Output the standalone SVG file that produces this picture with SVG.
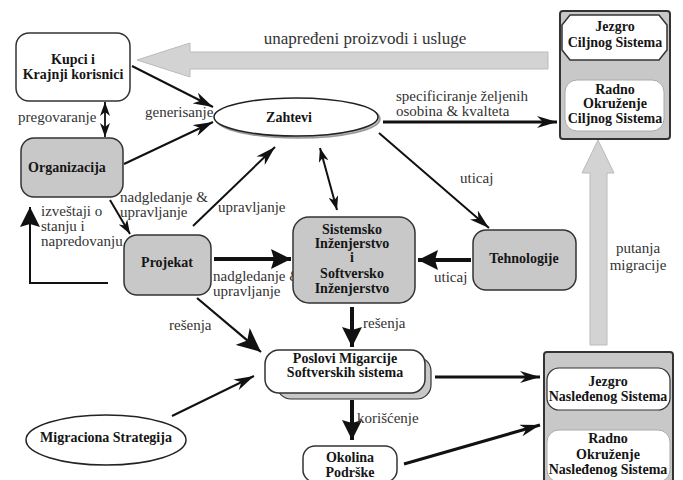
<svg xmlns="http://www.w3.org/2000/svg" width="683" height="480" viewBox="0 0 683 480">
<defs>
<style>
.nt{font-family:"Liberation Serif","Times New Roman",serif;font-weight:bold;font-size:14px;fill:#151515;text-anchor:middle}
.lb{font-family:"Liberation Serif","Times New Roman",serif;font-size:15px;fill:#333}
.gbox{fill:#c8c8c8;stroke:#333;stroke-width:1.5}
.wbox{fill:#fff;stroke:#333;stroke-width:1.5}
.ln{fill:none;stroke:#111;stroke-width:2}
.thk{fill:none;stroke:#111;stroke-width:4}
.big{fill:#d3d3d3;stroke:#bbb;stroke-width:1}
</style>
<marker id="a" markerUnits="userSpaceOnUse" markerWidth="14" markerHeight="10" refX="14" refY="5" orient="auto-start-reverse">
<path d="M0,0 L14,5 L0,10 L4,5 z" fill="#111"/>
</marker>
<marker id="b" markerUnits="userSpaceOnUse" markerWidth="20" markerHeight="12" refX="20" refY="6" orient="auto">
<path d="M0,0 L20,6 L0,12 L6,6 z" fill="#111"/>
</marker>
<marker id="c" markerUnits="userSpaceOnUse" markerWidth="24" markerHeight="22" refX="24" refY="11" orient="auto">
<path d="M0,0 L24,11 L0,22 L6,11 z" fill="#111"/>
</marker>
<marker id="d" markerUnits="userSpaceOnUse" markerWidth="20" markerHeight="20" refX="20" refY="10" orient="auto">
<path d="M0,0 L20,10 L0,20 L3,10 z" fill="#111"/>
</marker>
</defs>

<g id="connectors">
<polygon class="big" points="548,52 190,52 190,43 137,60 190,77 190,69 548,69"/>
<polygon class="big" points="590,345 590,173 582,173 598,140 614,173 607,173 607,345"/>
<line class="ln" x1="105" y1="102" x2="105" y2="137" marker-start="url(#a)" marker-end="url(#a)" style="stroke-width:1.8"/>
<line class="ln" x1="132" y1="66" x2="213" y2="107" marker-end="url(#b)"/>
<line class="ln" x1="124" y1="164" x2="213" y2="122" marker-end="url(#b)"/>
<line class="ln" x1="110" y1="200" x2="130" y2="234" marker-end="url(#a)"/>
<polyline class="ln" points="108,283 30,283 30,207" marker-end="url(#d)"/>
<line class="ln" x1="193" y1="226" x2="275" y2="147" marker-end="url(#b)"/>
<line class="ln" x1="320" y1="148" x2="337" y2="210" marker-start="url(#a)" marker-end="url(#a)"/>
<line class="ln" x1="379" y1="133" x2="489" y2="228" marker-end="url(#b)"/>
<line class="ln" x1="383" y1="122" x2="557" y2="122" marker-end="url(#b)" style="stroke-width:3"/>
<line class="thk" x1="214" y1="259" x2="291" y2="259" marker-end="url(#d)"/>
<line class="thk" x1="471" y1="260" x2="418" y2="260" marker-end="url(#d)"/>
<line class="thk" x1="352" y1="307" x2="352" y2="347" marker-end="url(#d)"/>
<line class="thk" x1="352" y1="400" x2="352" y2="440" marker-end="url(#d)"/>
<line class="ln" x1="197" y1="298" x2="261" y2="352" marker-end="url(#c)" style="stroke-width:2.2"/>
<line class="ln" x1="172" y1="416" x2="254" y2="376" marker-end="url(#b)"/>
<line class="ln" x1="435" y1="377" x2="540" y2="377" marker-end="url(#b)" style="stroke-width:3"/>
<line class="ln" x1="404" y1="464" x2="540" y2="425" marker-end="url(#b)" style="stroke-width:3"/>
<text class="lb" x="365" y="44" text-anchor="middle" style="font-size:17px">unapređeni proizvodi i usluge</text>
<text class="lb" x="18" y="122">pregovaranje</text>
<text class="lb" x="145" y="117">generisanje</text>
<text class="lb" x="396" y="101">specificiranje željenih</text>
<text class="lb" x="396" y="116">osobina &amp; kvalteta</text>
<text class="lb" x="120" y="202">nadgledanje &amp;</text>
<text class="lb" x="120" y="217">upravljanje</text>
<text class="lb" x="41" y="216">izveštaji o</text>
<text class="lb" x="41" y="231">stanju i</text>
<text class="lb" x="41" y="246">napredovanju</text>
<text class="lb" x="218" y="212">upravljanje</text>
<text class="lb" x="460" y="183">uticaj</text>
<text class="lb" x="213" y="281">nadgledanje &amp;</text>
<text class="lb" x="213" y="296">upravljanje</text>
<text class="lb" x="434" y="282">uticaj</text>
<text class="lb" x="169" y="330">rešenja</text>
<text class="lb" x="363" y="328">rešenja</text>
<text class="lb" x="357" y="423">korišćenje</text>
<text class="lb" x="638" y="253" text-anchor="middle">putanja</text>
<text class="lb" x="638" y="270" text-anchor="middle">migracije</text>
</g>

<g id="kupci">
<rect class="wbox" x="16" y="33" width="114" height="68" rx="13"/>
<text class="nt" x="73" y="64">Kupci i</text>
<text class="nt" x="73" y="79">Krajnji korisnici</text>
</g>

<g id="zahtevi">
<ellipse cx="298" cy="119" rx="82" ry="19" fill="#bbb" stroke="#999" stroke-width="1.5"/>
<ellipse cx="296" cy="117" rx="82" ry="19" fill="#fff" stroke="#222" stroke-width="1.5"/>
<text class="nt" x="289" y="122">Zahtevi</text>
</g>

<g id="organizacija">
<rect class="gbox" x="21" y="138" width="102" height="59" rx="13"/>
<text class="nt" x="67" y="172">Organizacija</text>
</g>

<g id="projekat">
<rect class="gbox" x="124" y="235" width="87" height="60" rx="13"/>
<text class="nt" x="167" y="267">Projekat</text>
</g>

<g id="sistemsko">
<rect class="gbox" x="293" y="217" width="122" height="86" rx="16"/>
<text class="nt" x="352" y="234">Sistemsko</text>
<text class="nt" x="352" y="248">Inženjerstvo</text>
<text class="nt" x="352" y="262">i</text>
<text class="nt" x="352" y="278">Softversko</text>
<text class="nt" x="352" y="293">Inženjerstvo</text>
</g>

<g id="tehnologije">
<rect class="gbox" x="473" y="230" width="103" height="60" rx="13"/>
<text class="nt" x="524" y="263">Tehnologije</text>
</g>

<g id="ciljni">
<rect class="gbox" x="560" y="11" width="110" height="128" rx="3" style="stroke-width:2"/>
<polygon class="wbox" points="570,15 659,15 667,25 667,50 659,60 570,60 562,50 562,25"/>
<text class="nt" x="615" y="31">Jezgro</text>
<text class="nt" x="615" y="47">Ciljnog Sistema</text>
<rect x="565" y="80" width="99" height="51" rx="12" fill="#fff" stroke="#aaa" stroke-width="1"/>
<text class="nt" x="615" y="94">Radno</text>
<text class="nt" x="615" y="108">Okruženje</text>
<text class="nt" x="615" y="123">Ciljnog Sistema</text>
</g>

<g id="poslovi">
<rect x="277" y="357" width="154" height="42" rx="14" fill="#c8c8c8" stroke="#333" stroke-width="1.2"/>
<rect class="wbox" x="265" y="350" width="160" height="43" rx="14"/>
<text class="nt" x="345" y="363">Poslovi Migarcije</text>
<text class="nt" x="345" y="377">Softverskih sistema</text>
</g>

<g id="migraciona">
<ellipse cx="106" cy="440" rx="80" ry="25" fill="#fff" stroke="#222" stroke-width="1.5"/>
<text class="nt" x="106" y="442">Migraciona Strategija</text>
</g>

<g id="okolina">
<rect class="wbox" x="303" y="446" width="94" height="36" rx="12"/>
<text class="nt" x="350" y="462">Okolina</text>
<text class="nt" x="350" y="477">Podrške</text>
</g>

<g id="nasledjeni">
<rect class="gbox" x="544" y="352" width="129" height="130" rx="3" style="stroke-width:2"/>
<rect x="547" y="368" width="123" height="42" rx="12" fill="#fff" stroke="#333" stroke-width="1.2"/>
<text class="nt" x="608" y="386">Jezgro</text>
<text class="nt" x="608" y="401">Nasleđenog Sistema</text>
<rect x="547" y="430" width="123" height="52" rx="12" fill="#fff" stroke="#aaa" stroke-width="1"/>
<text class="nt" x="608" y="443">Radno</text>
<text class="nt" x="608" y="459">Okruženje</text>
<text class="nt" x="608" y="474">Nasleđenog Sistema</text>
</g>
</svg>
